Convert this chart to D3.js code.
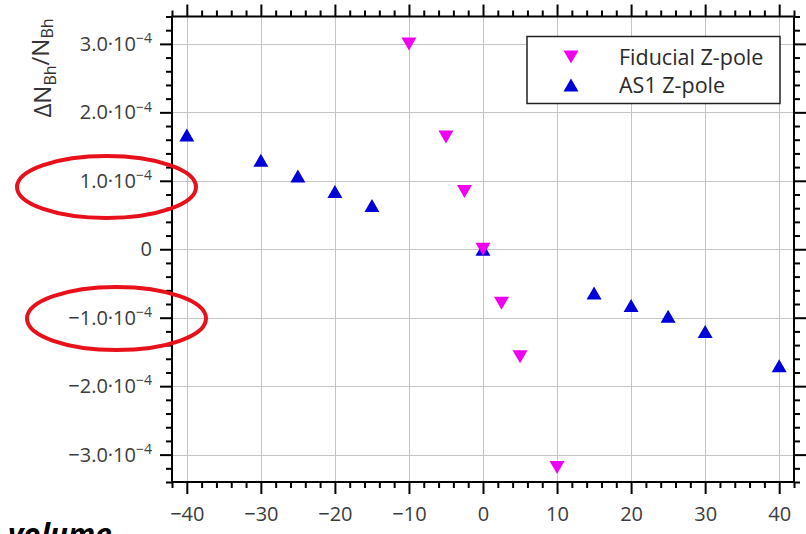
<!DOCTYPE html>
<html>
<head>
<meta charset="utf-8">
<script src="https://cdn.jsdelivr.net/npm/d3@7"></script>
<style>
  body { margin: 0; background: #fff; }
  svg { display: block; }
  text { font-family: "Open Sans", "DejaVu Sans", sans-serif; }
</style>
</head>
<body>
<svg id="chart" width="806" height="534"></svg>
<script>
// Relative change of N_Bh versus shift, two configurations
const fiducialShift = [-10, -5, -2.5, 0, 2.5, 5, 10];
const fiducialDelta = [3.0e-4, 1.64e-4, 0.845e-4, 0, -0.79e-4, -1.57e-4, -3.19e-4];

const as1Shift = [-40, -30, -25, -20, -15, 0, 15, 20, 25, 30, 40];
const as1Delta = [1.67e-4, 1.30e-4, 1.07e-4, 0.845e-4, 0.64e-4, 0, -0.64e-4, -0.82e-4, -0.98e-4, -1.20e-4, -1.70e-4];

const seriesNames = ["Fiducial Z-pole", "AS1 Z-pole"];
const seriesColors = ["#f000f0", "#0000d8"];

const xTickValues = [-40, -30, -20, -10, 0, 10, 20, 30, 40];
const yTickValues = [-3e-4, -2e-4, -1e-4, 0, 1e-4, 2e-4, 3e-4];

const svg = d3.select("#chart");
const L = 172, R = 794, T = 16.5, B = 482;

const x = d3.scaleLinear([-42, 42], [L, R]);
const y = d3.scaleLinear([-3.4e-4, 3.4e-4], [B, T]);

const xMinor = d3.range(-42, 42.001, 2).filter(v => v % 10 !== 0);
const yMinor = d3.range(-34, 34.001, 2).filter(v => v % 10 !== 0).map(v => v * 1e-5);

// grid at the major ticks
const grid = svg.append("g").attr("stroke", "#c4c4c4").attr("stroke-width", 1);
grid.selectAll("line.gx").data(xTickValues).join("line")
  .attr("x1", d => Math.round(x(d)) + 0.5).attr("x2", d => Math.round(x(d)) + 0.5)
  .attr("y1", T).attr("y2", B);
grid.selectAll("line.gy").data(yTickValues).join("line")
  .attr("y1", d => Math.round(y(d)) + 0.5).attr("y2", d => Math.round(y(d)) + 0.5)
  .attr("x1", L).attr("x2", R);

function styleAxis(g) {
  g.select(".domain").remove();
  g.selectAll("line").attr("stroke", "#000").attr("stroke-width", 2);
  g.selectAll("text").attr("fill", "#3c3c3c").attr("font-size", 20)
    .attr("font-family", '"Open Sans", sans-serif');
}

const fmtX = d => (d < 0 ? "\u2212" + Math.abs(d) : String(d));

// bottom
svg.append("g").attr("transform", `translate(0,${B})`)
  .call(d3.axisBottom(x).tickValues(xTickValues).tickSize(12).tickPadding(13).tickFormat(fmtX))
  .call(styleAxis);
svg.append("g").attr("transform", `translate(0,${B})`)
  .call(d3.axisBottom(x).tickValues(xMinor).tickSize(6).tickFormat(""))
  .call(styleAxis);
// top
svg.append("g").attr("transform", `translate(0,${T})`)
  .call(d3.axisTop(x).tickValues(xTickValues).tickSize(12).tickFormat(""))
  .call(styleAxis);
svg.append("g").attr("transform", `translate(0,${T})`)
  .call(d3.axisTop(x).tickValues(xMinor).tickSize(6).tickFormat(""))
  .call(styleAxis);
// left
const yAxisG = svg.append("g").attr("transform", `translate(${L},0)`)
  .call(d3.axisLeft(y).tickValues(yTickValues).tickSize(12).tickPadding(8).tickFormat(""))
  .call(styleAxis);
svg.append("g").attr("transform", `translate(${L},0)`)
  .call(d3.axisLeft(y).tickValues(yMinor).tickSize(6).tickFormat(""))
  .call(styleAxis);
// right
svg.append("g").attr("transform", `translate(${R},0)`)
  .call(d3.axisRight(y).tickValues(yTickValues).tickSize(12).tickFormat(""))
  .call(styleAxis);
svg.append("g").attr("transform", `translate(${R},0)`)
  .call(d3.axisRight(y).tickValues(yMinor).tickSize(6).tickFormat(""))
  .call(styleAxis);

// y tick labels in a·10^-4 form
yAxisG.selectAll(".tick text").each(function(d) {
  const t = d3.select(this).text(null);
  if (d === 0) { t.text("0"); return; }
  const m = d / 1e-4;
  t.append("tspan").text((m < 0 ? "\u2212" : "") + Math.abs(m).toFixed(1) + "\u00b710");
  t.append("tspan").attr("font-size", 14).attr("dy", "-0.55em").text("\u22124");
});

// frame
svg.append("rect").attr("x", L).attr("y", T).attr("width", R - L).attr("height", B - T)
  .attr("fill", "none").attr("stroke", "#000").attr("stroke-width", 2);

// triangle markers, centred on their bounding box
const triW = 15, triH = 13;
const triUp = `M0,${-triH / 2}L${triW / 2},${triH / 2}L${-triW / 2},${triH / 2}Z`;
const triDown = `M0,${triH / 2}L${triW / 2},${-triH / 2}L${-triW / 2},${-triH / 2}Z`;

svg.append("g").selectAll("path").data(as1Shift.map((s, i) => [s, as1Delta[i]])).join("path")
  .attr("d", triUp).attr("fill", seriesColors[1])
  .attr("transform", d => `translate(${x(d[0])},${y(d[1])})`);
svg.append("g").selectAll("path").data(fiducialShift.map((s, i) => [s, fiducialDelta[i]])).join("path")
  .attr("d", triDown).attr("fill", seriesColors[0])
  .attr("transform", d => `translate(${x(d[0])},${y(d[1])})`);

// legend
const lg = svg.append("g");
lg.append("rect").attr("x", 527).attr("y", 36.5).attr("width", 253).attr("height", 67)
  .attr("fill", "#fff").attr("stroke", "#222").attr("stroke-width", 1.5);
[triDown, triUp].forEach((p, i) => {
  lg.append("path").attr("d", p).attr("fill", seriesColors[i])
    .attr("transform", `translate(571,${57 + i * 28})`);
  lg.append("text").attr("x", 619).attr("y", 65 + i * 28).attr("font-size", 21.5)
    .attr("fill", "#2a2a2a").text(seriesNames[i]);
});

// y axis title
const yt = svg.append("text").attr("transform", "translate(51,68) rotate(-90)")
  .attr("text-anchor", "middle").attr("font-size", 24).attr("fill", "#333");
yt.append("tspan").text("\u0394N");
yt.append("tspan").attr("font-size", 16).attr("dy", "0.3em").text("Bh");
yt.append("tspan").attr("dy", "-0.3em").text("/N");
yt.append("tspan").attr("font-size", 16).attr("dy", "0.3em").text("Bh");

// highlight rings around the ±1.0·10^-4 labels
const rings = [[106.5, 187, 89.5, 31], [116.5, 318.5, 89.5, 31.5]];
svg.append("g").selectAll("ellipse").data(rings).join("ellipse")
  .attr("cx", d => d[0]).attr("cy", d => d[1]).attr("rx", d => d[2]).attr("ry", d => d[3])
  .attr("fill", "none").attr("stroke", "#e8101a").attr("stroke-width", 4);

// caption fragment at the bottom edge
svg.append("text").attr("x", 8).attr("y", 545)
  .attr("font-family", '"Liberation Sans", Arial, sans-serif')
  .attr("font-weight", "bold").attr("font-style", "italic").attr("font-size", 30)
  .attr("fill", "#000").text("volume");
</script>
</body>
</html>
